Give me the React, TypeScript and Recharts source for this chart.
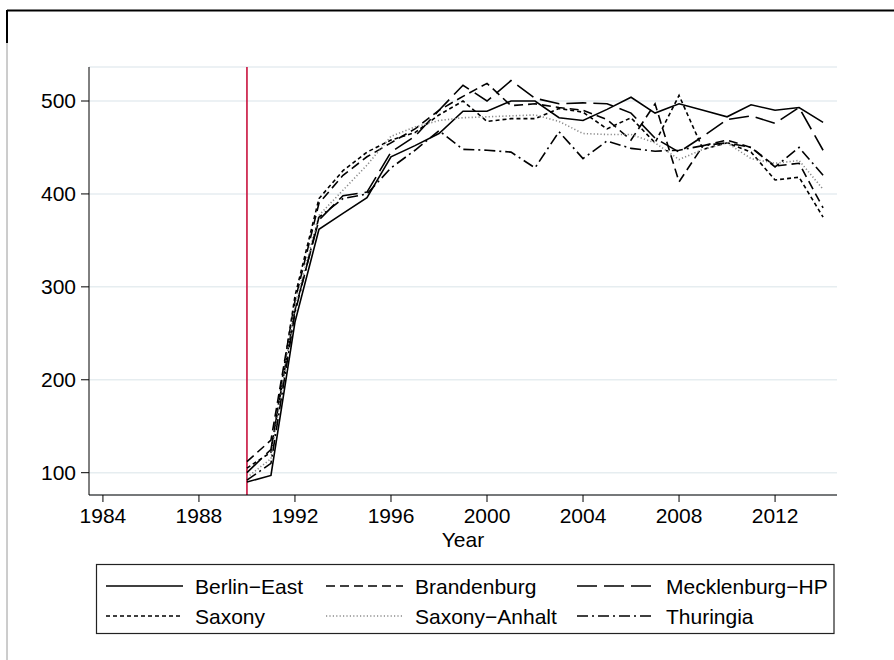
import React from 'react';
import { LineChart, Line, XAxis, YAxis, CartesianGrid, ReferenceLine } from 'recharts';

// values
const years = [
    1990, 1991, 1992, 1993, 1994, 1995, 1996, 1997, 1998, 1999, 2000, 2001, 2002,
    2003, 2004, 2005, 2006, 2007, 2008, 2009, 2010, 2011, 2012, 2013, 2014,
];
const berlinEast = [90, 97, 262, 362, 379, 396, 440, 452, 465, 489, 489, 500, 500, 482, 479, 491, 504, 487, 497, 490, 483, 496, 490, 493, 477];
const brandenburg = [112, 135, 285, 390, 420, 440, 455, 470, 490, 505, 519, 495, 497, 493, 490, 480, 458, 497, 413, 452, 458, 450, 430, 433, 385];
const mecklenburg = [100, 125, 275, 372, 398, 402, 445, 462, 490, 517, 500, 522, 503, 497, 498, 497, 487, 460, 445, 462, 480, 484, 476, 493, 447];
const saxony = [105, 122, 290, 395, 425, 445, 458, 466, 485, 500, 478, 481, 481, 492, 488, 470, 482, 455, 506, 448, 455, 445, 415, 418, 375];
const saxonyAnhalt = [95, 115, 280, 377, 404, 431, 462, 472, 479, 482, 483, 484, 485, 478, 465, 464, 464, 455, 437, 448, 455, 438, 433, 436, 405];
const thuringia = [92, 110, 272, 375, 395, 400, 428, 447, 468, 448, 447, 445, 428, 467, 438, 457, 449, 446, 447, 452, 455, 450, 429, 450, 420];

const xTicks = [1984, 1988, 1992, 1996, 2000, 2004, 2008, 2012];
const yTicks = [100, 200, 300, 400, 500];

const series = [
    { key: 'berlinEast', name: 'Berlin\u2212East', values: berlinEast, dash: undefined, color: '#000000' },
    { key: 'brandenburg', name: 'Brandenburg', values: brandenburg, dash: '9 5', color: '#000000' },
    { key: 'mecklenburg', name: 'Mecklenburg\u2212HP', values: mecklenburg, dash: '20 7', color: '#000000' },
    { key: 'saxony', name: 'Saxony', values: saxony, dash: '4 3', color: '#000000' },
    { key: 'saxonyAnhalt', name: 'Saxony\u2212Anhalt', values: saxonyAnhalt, dash: '1.2 2.2', color: '#8a8a8a' },
    { key: 'thuringia', name: 'Thuringia', values: thuringia, dash: '11 4 2 4', color: '#000000' },
];

const data = years.map((year, i) => {
    const row: Record<string, number> = { year };
    series.forEach(s => {
        row[s.key] = s.values[i];
    });
    return row;
});

const font = '"Liberation Sans", Arial, Helvetica, sans-serif';

const legendCols = [106, 326, 577];
const legendRows = [586, 616];

const ChartLegend = () => (
    <svg width={894} height={660} style={{ position: 'absolute', left: 0, top: 0, pointerEvents: 'none' }}>
        {/* page frame */}
        <line x1={7} y1={10.5} x2={894} y2={10.5} stroke="#000" strokeWidth={2} />
        <line x1={7} y1={10} x2={7} y2={43} stroke="#000" strokeWidth={2} />
        <line x1={7} y1={43} x2={7} y2={660} stroke="#9a9a9a" strokeWidth={1} />
        <rect x={96.5} y={564.5} width={737.5} height={69} fill="#fff" stroke="#222" strokeWidth={1.2} />
        {series.map((s, i) => {
            const cx = legendCols[i % 3];
            const cy = legendRows[Math.floor(i / 3)];
            return (
                <g key={s.key}>
                    <line
                        x1={cx}
                        y1={cy}
                        x2={cx + 77}
                        y2={cy}
                        stroke={s.color}
                        strokeWidth={1.6}
                        strokeDasharray={s.dash}
                    />
                    <text x={cx + 89} y={cy + 7.5} fontSize={21} fontFamily={font} fill="#000">
                        {s.name}
                    </text>
                </g>
            );
        })}
    </svg>
);

export default function App() {
    return (
        <div style={{ position: 'absolute', left: 0, top: 0, width: 894, height: 660, background: '#fff', fontFamily: font }}>
            <LineChart
                width={894}
                height={660}
                data={data}
                margin={{ top: 67, right: 57, bottom: 0, left: 0 }}
            >
                <CartesianGrid vertical={false} stroke="#e6edf0" strokeWidth={1.5} />
                <XAxis
                    dataKey="year"
                    type="number"
                    domain={[1983.42, 2014.58]}
                    ticks={xTicks}
                    allowDataOverflow
                    height={165}
                    tickSize={7}
                    tickMargin={6}
                    stroke="#000"
                    tick={{ fill: '#000', fontSize: 21, fontFamily: font }}
                    label={{
                        content: () => (
                            <text x={463} y={547} textAnchor="middle" fontSize={21} fontFamily={font} fill="#000">
                                Year
                            </text>
                        ),
                    }}
                />
                <YAxis
                    type="number"
                    domain={[76, 536.6]}
                    ticks={yTicks}
                    allowDataOverflow
                    width={89}
                    tickSize={8}
                    tickMargin={5}
                    stroke="#000"
                    tick={{ fill: '#000', fontSize: 21, fontFamily: font }}
                />
                <ReferenceLine x={1990} stroke="#c8103c" strokeWidth={1.6} />
                {series.map(s => (
                    <Line
                        key={s.key}
                        dataKey={s.key}
                        name={s.name}
                        type="linear"
                        stroke={s.color}
                        strokeWidth={1.6}
                        strokeDasharray={s.dash}
                        dot={false}
                        activeDot={false}
                        isAnimationActive={false}
                    />
                ))}
            </LineChart>
            <ChartLegend />
        </div>
    );
}
